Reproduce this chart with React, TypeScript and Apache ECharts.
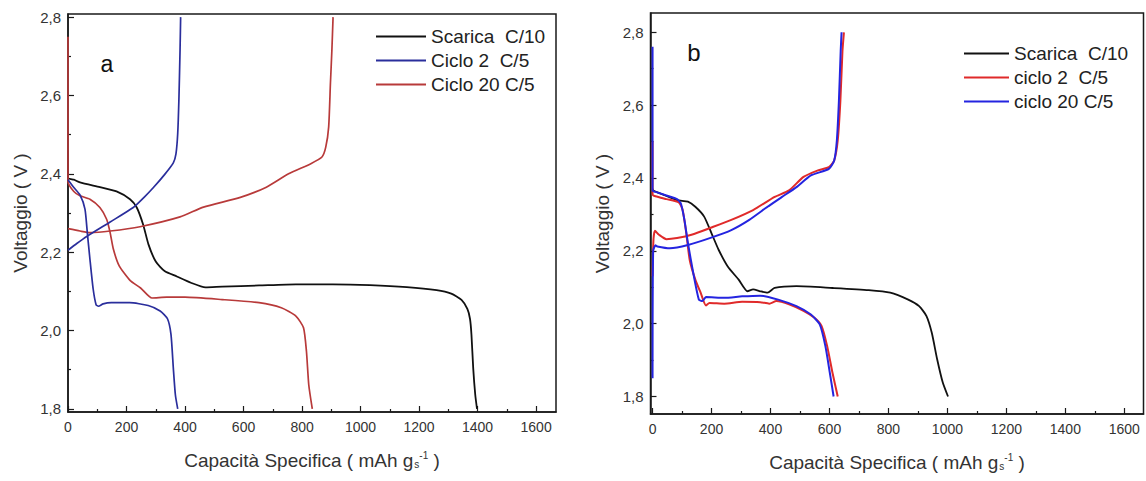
import React, { useEffect, useRef } from 'react';
import * as echarts from 'echarts';

const FONT = '"Liberation Sans", Arial, sans-serif';

// tick values
const xMajor = [0, 200, 400, 600, 800, 1000, 1200, 1400, 1600];
const xMinor = [100, 300, 500, 700, 900, 1100, 1300, 1500];
const yMajor = [1.8, 2.0, 2.2, 2.4, 2.6, 2.8];
const yMinor = [1.9, 2.1, 2.3, 2.5, 2.7];

// legend names
const namesA = ['Scarica  C/10', 'Ciclo 2  C/5', 'Ciclo 20 C/5'];
const namesB = ['Scarica  C/10', 'ciclo 2  C/5', 'ciclo 20 C/5'];

// ---------- panel a ----------
const aScarica = [[0,2.46],[0,2.39],[20,2.385],[41,2.378],[109,2.366],[166,2.355],[212,2.335],[235,2.314],[257,2.27],[275,2.22],[300,2.176],[330,2.152],[372,2.138],[420,2.122],[470,2.11],[527,2.112],[653,2.115],[779,2.118],[905,2.118],[1032,2.116],[1158,2.111],[1260,2.103],[1310,2.094],[1345,2.078],[1365,2.055],[1374,2.03],[1379,1.99],[1385,1.904],[1392,1.836],[1398,1.8]];
const aCiclo2Scarica = [[0,2.385],[20,2.365],[41,2.346],[58,2.31],[66,2.25],[75,2.182],[86,2.106],[96,2.066],[104,2.062],[120,2.068],[148,2.071],[211,2.071],[274,2.064],[315,2.05],[340,2.03],[352,1.99],[360,1.904],[367,1.836],[375,1.8]];
const aCiclo2Carica = [[0,2.205],[30,2.222],[64,2.24],[144,2.277],[223,2.314],[260,2.34],[292,2.365],[330,2.398],[360,2.428],[369,2.451],[375,2.503],[379,2.588],[383,2.716],[385,2.8]];
const aCiclo20Scarica = [[0,2.75],[0,2.38],[20,2.355],[41,2.344],[75,2.335],[109,2.314],[132,2.284],[144,2.25],[155,2.208],[175,2.165],[212,2.128],[249,2.108],[287,2.083],[337,2.085],[400,2.085],[527,2.079],[653,2.071],[729,2.058],[779,2.037],[805,2.007],[815,1.947],[823,1.861],[835,1.8]];
const aCiclo20Carica = [[0,2.26],[41,2.254],[75,2.25],[144,2.254],[246,2.265],[383,2.29],[463,2.315],[589,2.34],[678,2.366],[754,2.4],[830,2.426],[868,2.443],[881,2.468],[891,2.52],[897,2.631],[902,2.716],[906,2.8]];

// ---------- panel b ----------
const bScarica = [[0,2.37],[4,2.365],[34,2.355],[83,2.339],[120,2.335],[145,2.321],[175,2.294],[200,2.248],[224,2.203],[255,2.157],[292,2.121],[322,2.089],[341,2.094],[365,2.089],[390,2.085],[414,2.098],[488,2.103],[610,2.098],[733,2.092],[806,2.085],[867,2.066],[904,2.048],[929,2.021],[947,1.975],[965,1.903],[984,1.839],[1002,1.8]];
const bCiclo2Scarica = [[0,2.5],[0,2.355],[10,2.35],[47,2.342],[89,2.333],[102,2.312],[114,2.25],[126,2.175],[145,2.121],[163,2.085],[181,2.05],[193,2.057],[243,2.055],[304,2.06],[365,2.059],[396,2.055],[420,2.062],[463,2.053],[512,2.035],[549,2.016],[573,1.994],[592,1.939],[610,1.866],[628,1.8]];
const bCiclo2Carica = [[0,2.13],[3,2.23],[8,2.255],[22,2.244],[47,2.232],[83,2.235],[132,2.244],[206,2.266],[267,2.285],[341,2.312],[414,2.348],[463,2.366],[512,2.403],[561,2.421],[598,2.43],[616,2.448],[628,2.503],[637,2.612],[644,2.748],[649,2.8]];
const bCiclo20Scarica = [[0,2.76],[0,2.365],[10,2.362],[47,2.352],[83,2.342],[96,2.33],[108,2.285],[120,2.221],[138,2.139],[157,2.066],[169,2.062],[181,2.073],[243,2.071],[304,2.075],[365,2.077],[426,2.066],[488,2.048],[537,2.025],[567,1.998],[586,1.939],[601,1.866],[614,1.8]];
const bCiclo20Carica = [[0,1.85],[2,2.2],[10,2.215],[16,2.212],[59,2.207],[120,2.216],[194,2.235],[267,2.257],[328,2.285],[390,2.321],[439,2.348],[488,2.375],[537,2.407],[598,2.425],[616,2.448],[625,2.503],[632,2.612],[638,2.748],[641,2.8]];

const AXIS_COLOR = '#1a1a1a';
const LABEL_COLOR = '#333';

const fmtV = (v: number) => v.toFixed(1).replace('.', ',');
const fmtX = (v: number) => String(Math.round(v));

const xName = 'Capacità Specifica ( mAh g{sub|s}{sup|-1} )';
const nameRich = {
  sub: { fontSize: 10, fontFamily: FONT, color: LABEL_COLOR, padding: [9, 0, 0, 1] },
  sup: { fontSize: 10, fontFamily: FONT, color: LABEL_COLOR, padding: [0, 0, 10, 0] },
};

function xMain(gridIndex: number, min: number, max: number) {
  return {
    type: 'value', gridIndex, min, max, position: 'bottom',
    axisLine: { show: true, onZero: false, lineStyle: { color: AXIS_COLOR, width: 1.5 } },
    axisTick: { show: true, inside: true, length: 6, customValues: xMajor, lineStyle: { color: AXIS_COLOR, width: 1.2 } },
    axisLabel: { show: true, customValues: xMajor, margin: 8, fontSize: 14, color: LABEL_COLOR, fontFamily: FONT, formatter: fmtX },
    splitLine: { show: false },
    name: xName, nameLocation: 'middle', nameGap: 38,
    nameTextStyle: { fontSize: 19, color: LABEL_COLOR, fontFamily: FONT, rich: nameRich },
  };
}
function xMinorAxis(gridIndex: number, min: number, max: number) {
  return {
    type: 'value', gridIndex, min, max, position: 'bottom',
    axisLine: { show: false, onZero: false },
    axisTick: { show: true, inside: true, length: 3, customValues: xMinor, lineStyle: { color: AXIS_COLOR, width: 1.2 } },
    axisLabel: { show: false },
    splitLine: { show: false },
  };
}
function yMain(gridIndex: number, min: number, max: number, gap: number) {
  return {
    type: 'value', gridIndex, min, max, position: 'left',
    axisLine: { show: true, onZero: false, lineStyle: { color: AXIS_COLOR, width: 1.5 } },
    axisTick: { show: true, inside: true, length: 6, customValues: yMajor, lineStyle: { color: AXIS_COLOR, width: 1.2 } },
    axisLabel: { show: true, customValues: yMajor, margin: 7, fontSize: 15, color: LABEL_COLOR, fontFamily: FONT, formatter: fmtV },
    splitLine: { show: false },
    name: 'Voltaggio ( V )', nameLocation: 'middle', nameGap: gap, nameRotate: 90,
    nameTextStyle: { fontSize: 19, color: LABEL_COLOR, fontFamily: FONT },
  };
}
function yMinorAxis(gridIndex: number, min: number, max: number) {
  return {
    type: 'value', gridIndex, min, max, position: 'left',
    axisLine: { show: false, onZero: false },
    axisTick: { show: true, inside: true, length: 3, customValues: yMinor, lineStyle: { color: AXIS_COLOR, width: 1.2 } },
    axisLabel: { show: false },
    splitLine: { show: false },
  };
}

function line(name: string, data: number[][], color: string, axis: number, width: number) {
  return {
    type: 'line', name, data, xAxisIndex: axis, yAxisIndex: axis,
    symbol: 'none', showSymbol: false, smooth: 0.2,
    lineStyle: { color, width }, itemStyle: { color },
  };
}

const A_BLACK = '#111111';
const A_BLUE = '#2a2e9c';
const A_RED = '#b83a3a';
const B_BLACK = '#111111';
const B_RED = '#e02a2a';
const B_BLUE = '#2424e0';

export default function App() {
  const ref = useRef<HTMLDivElement>(null);
  useEffect(() => {
    if (!ref.current) return;
    const chart = echarts.init(ref.current, null, { renderer: 'svg' });
    const legendBase = {
      orient: 'vertical', icon: 'rect', itemHeight: 2, itemGap: 5,
      padding: 0, selectedMode: false,
      textStyle: { fontSize: 19, color: '#222', fontFamily: FONT, lineHeight: 18 },
    };
    const option = {
      animation: false,
      backgroundColor: '#ffffff',
      grid: [
        { left: 68, top: 14, width: 488, height: 398, show: true, borderColor: AXIS_COLOR, borderWidth: 1.5, backgroundColor: 'transparent' },
        { left: 650.5, top: 13, width: 493, height: 401, show: true, borderColor: AXIS_COLOR, borderWidth: 1.5, backgroundColor: 'transparent' },
      ],
      xAxis: [
        xMain(0, 0, 1668),
        xMain(1, -7, 1665),
        xMinorAxis(0, 0, 1668),
        xMinorAxis(1, -7, 1665),
      ],
      yAxis: [
        yMain(0, 1.792, 2.808, 38),
        yMain(1, 1.752, 2.853, 39),
        yMinorAxis(0, 1.792, 2.808),
        yMinorAxis(1, 1.752, 2.853),
      ],
      legend: [
        { ...legendBase, data: namesA, left: 376, top: 27, itemWidth: 50 },
        { ...legendBase, data: namesB, left: 964, top: 44, itemWidth: 45 },
      ],
      graphic: [
        { type: 'text', x: 107, y: 64, style: { text: 'a', fontSize: 23, fontFamily: FONT, fill: '#111', align: 'center', verticalAlign: 'middle' } },
        { type: 'text', x: 694, y: 52, style: { text: 'b', fontSize: 24, fontFamily: FONT, fill: '#111', align: 'center', verticalAlign: 'middle' } },
      ],
      series: [
        line(namesA[0], aScarica, A_BLACK, 0, 1.8),
        line(namesA[2], aCiclo20Scarica, A_RED, 0, 1.7),
        line(namesA[2], aCiclo20Carica, A_RED, 0, 1.7),
        line(namesA[1], aCiclo2Scarica, A_BLUE, 0, 1.7),
        line(namesA[1], aCiclo2Carica, A_BLUE, 0, 1.7),
        line(namesB[0], bScarica, B_BLACK, 1, 1.8),
        line(namesB[1], bCiclo2Scarica, B_RED, 1, 2),
        line(namesB[1], bCiclo2Carica, B_RED, 1, 2),
        line(namesB[2], bCiclo20Scarica, B_BLUE, 1, 2),
        line(namesB[2], bCiclo20Carica, B_BLUE, 1, 2),
      ],
    };
    chart.setOption(option as any);
    return () => chart.dispose();
  }, []);
  return (
    <div
      ref={ref}
      style={{ position: 'fixed', left: 0, top: 0, width: 1146, height: 481, background: '#fff' }}
    />
  );
}
